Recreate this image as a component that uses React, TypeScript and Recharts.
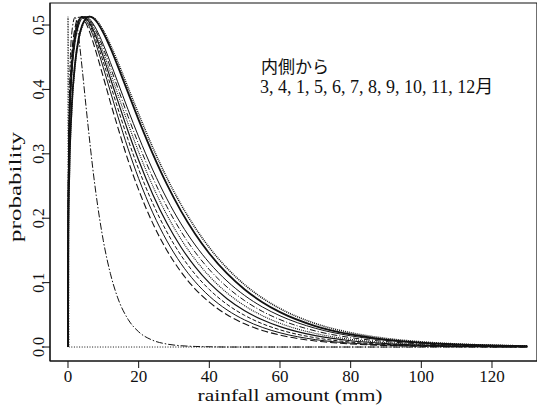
import React from "react";
import { LineChart, Line, XAxis, YAxis, ReferenceArea } from "recharts";

// rainfall amount (mm) sample points shared by the fitted curves
const xGrid = [
  0, 0.1, 0.4, 1, 2, 3, 4, 5, 6, 7, 8, 10, 12, 14, 17, 20, 24, 28, 32, 36, 40,
  45, 50, 55, 60, 70, 80, 90, 100, 110, 120, 130,
];

// month 3 collapses onto x = 0
const m3x = [0, 0, 0.3, 121];
const m3y = [0, 0.513, 0, 0];

const m4 = [
  0, 0.236, 0.384, 0.484, 0.512, 0.482, 0.433, 0.379, 0.327, 0.278, 0.235,
  0.165, 0.114, 0.0775, 0.043, 0.0236, 0.0104, 0.0046, 0.002, 0.0009, 0.0004,
  0, 0, 0, 0, 0, 0, 0, 0, 0, 0, 0,
];
const m1 = [
  0, 0.269, 0.372, 0.448, 0.496, 0.512, 0.512, 0.504, 0.491, 0.475, 0.457,
  0.419, 0.38, 0.343, 0.29, 0.244, 0.192, 0.15, 0.1165, 0.0901, 0.0696, 0.0501,
  0.036, 0.0258, 0.0185, 0.0094, 0.0048, 0.0024, 0.0012, 0.0006, 0.0003, 0.0002,
];
const m5 = [
  0, 0.248, 0.353, 0.434, 0.4885, 0.5086, 0.513, 0.508, 0.498, 0.485, 0.469,
  0.4336, 0.3966, 0.36, 0.308, 0.2616, 0.2084, 0.1647, 0.1294, 0.1013, 0.079,
  0.0577, 0.042, 0.0305, 0.0221, 0.0115, 0.006, 0.0031, 0.0016, 0.0008, 0.0004,
  0.0002,
];
const m6 = [
  0, 0.245, 0.349, 0.43, 0.485, 0.507, 0.513, 0.51, 0.502, 0.49, 0.475, 0.4425,
  0.4075, 0.3724, 0.322, 0.2762, 0.223, 0.1786, 0.1423, 0.1129, 0.0893, 0.0663,
  0.0491, 0.0362, 0.0267, 0.0144, 0.0077, 0.0041, 0.0022, 0.0012, 0.0006,
  0.0003,
];
const m7 = [
  0, 0.242, 0.345, 0.426, 0.482, 0.505, 0.5126, 0.5113, 0.5045, 0.494, 0.481,
  0.4505, 0.4173, 0.3837, 0.335, 0.29, 0.2369, 0.1921, 0.155, 0.1244, 0.0995,
  0.0751, 0.0564, 0.0423, 0.0316, 0.0176, 0.0097, 0.0054, 0.0029, 0.0016,
  0.0009, 0.0005,
];
const m8 = [
  0, 0.239, 0.341, 0.4216, 0.479, 0.503, 0.512, 0.512, 0.507, 0.4975, 0.4857,
  0.4575, 0.426, 0.394, 0.347, 0.3028, 0.25, 0.205, 0.1673, 0.1359, 0.11,
  0.0841, 0.0641, 0.0487, 0.0369, 0.0211, 0.012, 0.0068, 0.0038, 0.0022,
  0.0012, 0.0007,
];
const m9 = [
  0, 0.236, 0.3377, 0.418, 0.4756, 0.501, 0.511, 0.513, 0.5085, 0.5005, 0.49,
  0.4639, 0.4344, 0.4037, 0.358, 0.3149, 0.2629, 0.2178, 0.1794, 0.1472,
  0.1203, 0.0932, 0.072, 0.0554, 0.0426, 0.025, 0.0146, 0.0085, 0.0049, 0.0028,
  0.0016, 0.0009,
];
const m10 = [
  0, 0.2337, 0.3342, 0.414, 0.4725, 0.499, 0.5103, 0.513, 0.51, 0.503, 0.4936,
  0.4696, 0.4418, 0.4126, 0.3685, 0.3264, 0.275, 0.23, 0.1912, 0.1584, 0.1308,
  0.1025, 0.08, 0.0623, 0.0485, 0.0291, 0.0174, 0.0104, 0.0061, 0.0036, 0.0021,
  0.0013,
];
const m11 = [
  0, 0.1755, 0.2776, 0.3676, 0.4407, 0.4787, 0.4995, 0.5097, 0.513, 0.5112,
  0.5059, 0.488, 0.4643, 0.4374, 0.395, 0.3527, 0.2999, 0.2525, 0.2111, 0.1755,
  0.1453, 0.1142, 0.0894, 0.0697, 0.0542, 0.0326, 0.0195, 0.0115, 0.0068,
  0.004, 0.0024, 0.0014,
];
const m12 = [
  0, 0.1736, 0.2748, 0.3642, 0.4374, 0.476, 0.4975, 0.5087, 0.513, 0.512,
  0.5076, 0.4915, 0.4692, 0.4437, 0.4027, 0.3617, 0.3097, 0.2626, 0.2211,
  0.1852, 0.1544, 0.1225, 0.0967, 0.0761, 0.0597, 0.0365, 0.0222, 0.0134,
  0.0081, 0.0048, 0.0029, 0.0017,
];

const xTicks = [0, 20, 40, 60, 80, 100, 120];
const yTicks = [0, 0.1, 0.2, 0.3, 0.4, 0.5];

const X_MIN = -5.094;
const X_MAX = 132.74;
const Y_MIN = -0.0217;
const Y_MAX = 0.5342;

const toPoints = (xs: number[], ys: number[]) =>
  ys.map((y, i) => ({ x: xs[i], y }));

const series = [
  { name: "3月", data: toPoints(m3x, m3y), dash: "1 1.6", w: 1 },
  { name: "4月", data: toPoints(xGrid, m4), dash: "7 2 1.5 2", w: 1 },
  { name: "1月", data: toPoints(xGrid, m1), dash: "7 3", w: 1.1 },
  { name: "5月", data: toPoints(xGrid, m5), dash: undefined, w: 1 },
  { name: "6月", data: toPoints(xGrid, m6), dash: "4 2", w: 1 },
  { name: "7月", data: toPoints(xGrid, m7), dash: undefined, w: 1.2 },
  { name: "8月", data: toPoints(xGrid, m8), dash: "1 1", w: 1.1 },
  { name: "9月", data: toPoints(xGrid, m9), dash: "6 2 1 2", w: 1 },
  { name: "10月", data: toPoints(xGrid, m10), dash: undefined, w: 1 },
  { name: "11月", data: toPoints(xGrid, m11), dash: undefined, w: 1.8 },
  { name: "12月", data: toPoints(xGrid, m12), dash: "1 1", w: 1.6 },
];

const serif = "'Liberation Serif', 'DejaVu Serif', serif";
const jp = "'Liberation Serif', 'Noto Sans CJK JP', serif";
const ink = "#111";

const XTick = (props: any) => {
  const { x, y, payload } = props;
  return (
    <text
      x={x}
      y={y + 13}
      textAnchor="middle"
      fontFamily={serif}
      fontSize={17}
      fill={ink}
    >
      {payload.value}
    </text>
  );
};

const YTick = (props: any) => {
  const { x, y, payload } = props;
  return (
    <text
      transform={`translate(${x - 0.5},${y}) rotate(-90)`}
      textAnchor="middle"
      fontFamily={serif}
      fontSize={16}
      fill={ink}
    >
      {payload.value.toFixed(1)}
    </text>
  );
};

export default function App() {
  return (
    <div
      style={{
        position: "absolute",
        left: 0,
        top: 0,
        width: 537,
        height: 410,
        background: "#fff",
      }}
    >
      <LineChart
        width={537}
        height={410}
        margin={{ top: 3, right: 0, bottom: 19, left: 10 }}
      >
        <XAxis
          type="number"
          dataKey="x"
          domain={[X_MIN, X_MAX]}
          ticks={xTicks}
          allowDataOverflow
          height={30}
          tickSize={7}
          tickMargin={1}
          stroke={ink}
          tick={<XTick />}
        />
        <YAxis
          type="number"
          dataKey="y"
          domain={[Y_MIN, Y_MAX]}
          ticks={yTicks}
          allowDataOverflow
          width={40}
          tickSize={6}
          tickMargin={0}
          stroke={ink}
          tick={<YTick />}
        />
        <ReferenceArea
          x1={X_MIN}
          x2={X_MAX}
          y1={Y_MIN}
          y2={Y_MAX}
          fill="none"
          stroke={ink}
          strokeWidth={1.2}
          ifOverflow="visible"
        />
        {series.map((s) => (
          <Line
            key={s.name}
            name={s.name}
            data={s.data}
            dataKey="y"
            type="monotone"
            stroke={ink}
            strokeWidth={s.w}
            strokeDasharray={s.dash}
            dot={false}
            activeDot={false}
            isAnimationActive={false}
          />
        ))}
      </LineChart>
      <svg
        width={537}
        height={410}
        style={{ position: "absolute", left: 0, top: 0, pointerEvents: "none" }}
      >
        <text
          x={290}
          y={401}
          textAnchor="middle"
          fontFamily={serif}
          fontSize={17}
          fill={ink}
          textLength={185}
          lengthAdjust="spacingAndGlyphs"
        >
          rainfall amount (mm)
        </text>
        <text
          transform="translate(20.5,187) rotate(-90)"
          textAnchor="middle"
          fontFamily={serif}
          fontSize={17}
          fill={ink}
          textLength={110}
          lengthAdjust="spacingAndGlyphs"
        >
          probability
        </text>
        <text x={261} y={73} fontFamily={jp} fontSize={17} fill={ink}>
          内側から
        </text>
        <text x={260} y={93} fontFamily={jp} fontSize={18} fill={ink}>
          3, 4, 1, 5, 6, 7, 8, 9, 10, 11, 12月
        </text>
      </svg>
    </div>
  );
}
